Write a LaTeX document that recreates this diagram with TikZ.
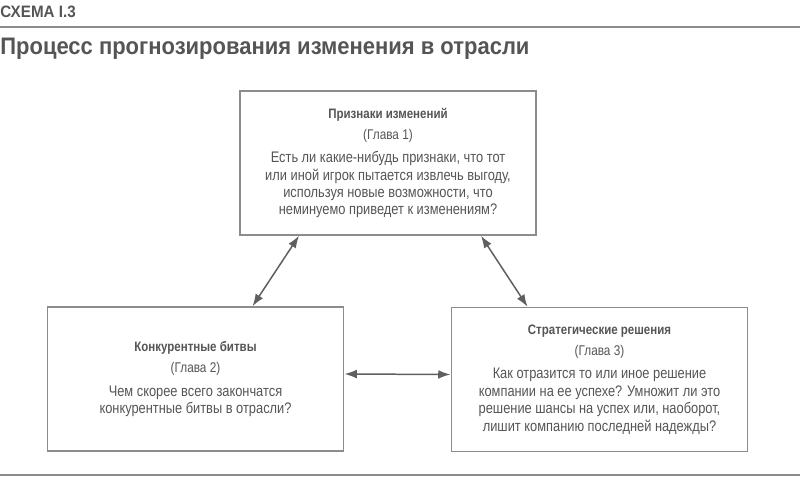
\documentclass[tikz,border=0pt]{standalone}
\usepackage{fontspec}
\setmainfont{Liberation Sans}[FakeStretch=0.84]
\newfontfamily\headfont{Liberation Sans}[FakeStretch=0.92]
\usetikzlibrary{arrows.meta, positioning, calc}
\definecolor{textgray}{HTML}{555555}
\definecolor{framegray}{HTML}{8C8C8C}
\definecolor{arrowgray}{HTML}{5F5F5F}

\begin{document}
\begin{tikzpicture}[
  x=0.02cm, y=-0.02cm,
  every node/.style={text=textgray},
  rule/.style={draw=framegray, line width=0.85pt},
  block/.style={draw=framegray, line width=0.85pt, minimum width=5.93cm, minimum height=2.88cm,
    align=center, inner sep=0pt, font=\fontsize{8.7}{9.9}\selectfont},
  link/.style={{Latex[length=7pt,width=5pt]}-{Latex[length=7pt,width=5pt]}, draw=arrowgray, line width=0.85pt}
]
  \useasboundingbox (0,0) rectangle (800,476);

  % header
  \node[anchor=west, inner sep=0pt, font=\headfont\bfseries\fontsize{9.4}{10}\selectfont] (label) at (0,12) {СХЕМА I.3};
  \draw[rule] (0,27) -- (800,27);
  \node[anchor=west, inner sep=0pt, font=\headfont\bfseries\fontsize{13.6}{16}\selectfont] (title) at (0,49)
    {Процесс прогнозирования изменения в отрасли};

  % blocks
  \node[block] (signs) at (388,163) {{\fontsize{7.8}{9.9}\selectfont\bfseries Признаки изменений}\\[2.2pt]
    {\fontsize{8}{9.9}\selectfont(Глава 1)}\\[3.4pt]
    Есть ли какие-нибудь признаки, что тот\\или иной игрок пытается извлечь выгоду,\\
    используя новые возможности, что\\неминуемо приведет к изменениям?};
  \node[block] (battles) at (195.5,379) {{\fontsize{7.8}{9.9}\selectfont\bfseries Конкурентные битвы}\\[2.2pt]
    {\fontsize{8}{9.9}\selectfont(Глава 2)}\\[3.4pt]
    Чем скорее всего закончатся\\конкурентные битвы в отрасли?};
  \node[block] (decisions) at (599.5,379.5) {{\fontsize{7.8}{9.9}\selectfont\bfseries Стратегические решения}\\[2.2pt]
    {\fontsize{8}{9.9}\selectfont(Глава 3)}\\[3.4pt]
    Как отразится то или иное решение\\компании на ее успехе? Умножит ли это\\
    решение шансы на успех или, наоборот,\\лишит компанию последней надежды?};

  % links
  \draw[link] ([xshift=1.2cm]signs.south west) -- ([xshift=4.12cm]battles.north west);
  \draw[link] ([xshift=4.84cm]signs.south west) -- ([xshift=1.54cm]decisions.north west);
  \draw[link] ([yshift=0.1cm]battles.east) -- ([yshift=0.1cm]decisions.west);

  \draw[rule] (0,475) -- (800,475);
\end{tikzpicture}
\end{document}
